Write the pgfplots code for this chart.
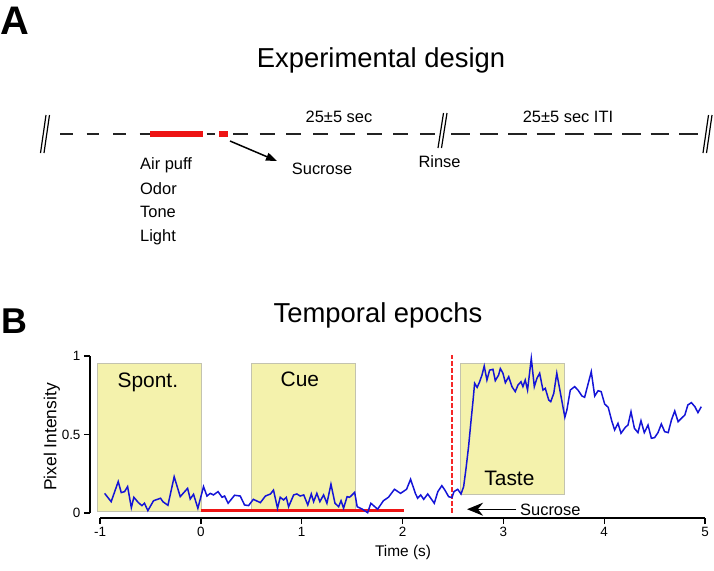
\documentclass[border=0pt]{standalone}
\usepackage{pgfplots}
\pgfplotsset{compat=1.18}
\usepackage{pgfplotstable}
\usepackage{fontspec}
\setmainfont{Liberation Sans}
\usetikzlibrary{arrows.meta}
\definecolor{boxfill}{RGB}{244,242,172}
\definecolor{boxedge}{RGB}{195,195,175}
\definecolor{trace}{RGB}{20,20,215}
\definecolor{cuered}{RGB}{238,20,20}
\definecolor{onsetred}{RGB}{245,40,40}
\definecolor{dashcol}{RGB}{35,35,35}

\pgfplotstableread{
t v
-0.955 0.125
-0.89 0.072
-0.82 0.2
-0.79 0.13
-0.757 0.136
-0.727 0.168
-0.69 0.034
-0.665 0.1
-0.62 0.066
-0.585 0.047
-0.56 0.062
-0.526 0.015
-0.47 0.078
-0.4 0.094
-0.377 0.072
-0.327 0.049
-0.265 0.231
-0.205 0.104
-0.132 0.157
-0.106 0.089
-0.073 0.119
-0.03 0.03
0.026 0.168
0.06 0.108
0.093 0.125
0.125 0.115
0.17 0.136
0.21 0.1
0.235 0.108
0.27 0.062
0.334 0.113
0.39 0.108
0.433 0.051
0.473 0.047
0.52 0.087
0.59 0.066
0.64 0.108
0.69 0.121
0.72 0.146
0.76 0.03
0.787 0.1
0.82 0.083
0.847 0.1
0.87 0.04
0.92 0.115
0.952 0.121
0.985 0.108
1.02 0.115
1.06 0.051
1.095 0.121
1.118 0.072
1.15 0.125
1.18 0.072
1.217 0.115
1.25 0.062
1.29 0.183
1.33 0.062
1.366 0.04
1.39 0.078
1.415 0.03
1.45 0.104
1.475 0.1
1.5 0.115
1.525 0.132
1.55 0.04
1.6 0.025
1.654 0.002
1.686 0.062
1.753 0.024
1.81 0.078
1.86 0.1
1.92 0.151
1.98 0.125
2.04 0.151
2.08 0.215
2.127 0.125
2.15 0.094
2.18 0.115
2.21 0.087
2.25 0.121
2.315 0.062
2.35 0.136
2.39 0.174
2.42 0.146
2.457 0.104
2.49 0.098
2.51 0.136
2.547 0.151
2.58 0.121
2.606 0.168
2.63 0.285
2.655 0.423
2.68 0.592
2.7 0.72
2.715 0.826
2.74 0.8
2.765 0.836
2.788 0.879
2.81 0.936
2.837 0.847
2.864 0.91
2.897 0.915
2.92 0.843
2.953 0.879
2.97 0.92
2.996 0.89
3.02 0.83
3.053 0.868
3.085 0.805
3.118 0.773
3.145 0.815
3.175 0.836
3.194 0.805
3.217 0.847
3.24 0.783
3.277 0.985
3.307 0.805
3.333 0.858
3.36 0.89
3.393 0.783
3.416 0.794
3.45 0.72
3.47 0.709
3.5 0.762
3.53 0.89
3.61 0.61
3.63 0.656
3.664 0.783
3.707 0.805
3.74 0.783
3.78 0.745
3.806 0.737
3.872 0.9
3.906 0.745
3.94 0.779
3.97 0.773
4.005 0.694
4.04 0.673
4.077 0.582
4.104 0.529
4.137 0.571
4.167 0.508
4.21 0.546
4.236 0.56
4.266 0.645
4.3 0.539
4.335 0.512
4.365 0.588
4.398 0.512
4.435 0.56
4.468 0.476
4.5 0.48
4.534 0.512
4.567 0.567
4.6 0.518
4.635 0.512
4.667 0.592
4.7 0.65
4.733 0.582
4.766 0.603
4.8 0.624
4.83 0.688
4.865 0.703
4.9 0.677
4.93 0.639
4.963 0.677
}\tracedata

\begin{document}
\begin{tikzpicture}
% fixed canvas 714 x 571
\path[use as bounding box] (0,0) rectangle (714bp,-571bp);
% ---------- Panel A (schematic, pixel coordinates) ----------
\begin{axis}[name=top, anchor=north west, at={(0,0)}, scale only axis,
  width=714bp, height=571bp, xmin=0, xmax=714, ymin=0, ymax=571,
  y dir=reverse, hide axis, clip=false]
  % dashed timeline
  \addplot[dashcol, line width=2bp, dash pattern=on 12.5bp off 14bp] coordinates {(60,134) (150,134)};
  \addplot[dashcol, line width=2bp] coordinates {(206.7,134) (215,134)};
  \addplot[dashcol, line width=2bp, dash pattern=on 15bp off 11.7bp] coordinates {(233,134) (436,134)};
  \addplot[dashcol, line width=2bp, dash pattern=on 18.5bp off 10bp] coordinates {(451,134) (698,134)};
  % red cue bar and sucrose square
  \addplot[cuered, line width=6bp] coordinates {(150,134) (202.7,134)};
  \addplot[cuered, line width=6bp] coordinates {(219,134) (228.3,134)};
  % break marks
  \addplot[black, line width=1.2bp] coordinates {(40.5,153) (46,115)};
  \addplot[black, line width=1.2bp] coordinates {(44,153) (49.5,115)};
  \addplot[black, line width=1.2bp] coordinates {(438,148) (443.5,113)};
  \addplot[black, line width=1.2bp] coordinates {(441.5,148) (447,113)};
  \addplot[black, line width=1.2bp] coordinates {(703,153) (708.5,115)};
  \addplot[black, line width=1.2bp] coordinates {(706.5,153) (712,115)};
  % arrow to sucrose
  \draw[-{Triangle[length=11bp,width=8bp]}, line width=1.5bp] (axis cs:230,141) -- (axis cs:277,161);
  % texts
  \node[anchor=base west, inner sep=0pt, font=\fontsize{40}{44}\selectfont\bfseries] at (axis cs:0,34) {A};
  \node[anchor=base, inner sep=0pt, font=\fontsize{27.5}{32}\selectfont] at (axis cs:381,67) {Experimental design};
  \node[anchor=base, inner sep=0pt, font=\fontsize{16.5}{19}\selectfont] at (axis cs:339,122) {25±5 sec};
  \node[anchor=base, inner sep=0pt, font=\fontsize{16.5}{19}\selectfont] at (axis cs:568,122) {25±5 sec ITI};
  \node[anchor=base west, inner sep=0pt, font=\fontsize{16.5}{19}\selectfont] at (axis cs:140,169.3) {Air puff};
  \node[anchor=base west, inner sep=0pt, font=\fontsize{16.5}{19}\selectfont] at (axis cs:140,194) {Odor};
  \node[anchor=base west, inner sep=0pt, font=\fontsize{16.5}{19}\selectfont] at (axis cs:140,217.7) {Tone};
  \node[anchor=base west, inner sep=0pt, font=\fontsize{16.5}{19}\selectfont] at (axis cs:140,241.7) {Light};
  \node[anchor=base west, inner sep=0pt, font=\fontsize{16.5}{19}\selectfont] at (axis cs:291.7,174) {Sucrose};
  \node[anchor=base west, inner sep=0pt, font=\fontsize{16.5}{19}\selectfont] at (axis cs:418.3,167.3) {Rinse};
  \node[anchor=base west, inner sep=0pt, font=\fontsize{36}{40}\selectfont\bfseries] at (axis cs:1,333) {B};
  \node[anchor=base, inner sep=0pt, font=\fontsize{27.5}{32}\selectfont] at (axis cs:378,322) {Temporal epochs};
\end{axis}

% ---------- Panel B (plot) ----------
\begin{axis}[name=bot, anchor=south west, at={(90bp,-518bp)}, scale only axis,
  width=615bp, height=162bp,
  xmin=-1.1, xmax=5, ymin=-0.032, ymax=1,
  axis x line*=bottom, axis y line*=left, axis line style={draw=none},
  tick align=outside, major tick length=6bp,
  tick style={black, line width=1.2bp},
  xtick={-1,0,1,2,3,4,5}, ytick={0,0.5,1},
  /pgf/number format/assume math mode=true,
  ticklabel style={font=\fontsize{13.5}{16}\selectfont},
  xlabel={Time (s)}, ylabel={Pixel Intensity},
  xlabel style={font=\fontsize{15.5}{18}\selectfont, at={(axis description cs:0.509,-0.21)}, anchor=center},
  ylabel style={font=\fontsize{17.5}{20}\selectfont, at={(axis description cs:-0.062,0.5)}, anchor=center},
  clip=false]
  % epoch boxes
  \addplot[fill=boxfill, draw=boxedge, line width=0.8bp] coordinates {(-1.03,0.008) (0,0.008) (0,0.953) (-1.03,0.953)} --cycle;
  \addplot[fill=boxfill, draw=boxedge, line width=0.8bp] coordinates {(0.5,0.008) (1.53,0.008) (1.53,0.953) (0.5,0.953)} --cycle;
  \addplot[fill=boxfill, draw=boxedge, line width=0.8bp] coordinates {(2.573,0.121) (3.604,0.121) (3.604,0.953) (2.573,0.953)} --cycle;
  % axis lines (detached)
  \addplot[black, line width=1.2bp] coordinates {(-1,-0.032) (5,-0.032)};
  \addplot[black, line width=1.2bp] coordinates {(-1.1,0) (-1.1,1)};
  % cue bar
  \addplot[cuered, line width=3bp] coordinates {(0,0.015) (2.01,0.015)};
  % sucrose onset
  \addplot[draw=onsetred, line width=1.4bp, dash pattern=on 4.5bp off 2.5bp] coordinates {(2.49,0) (2.49,1.006)};
  % trace
  \addplot[trace, line width=1.5bp] table[x=t, y=v] {\tracedata};
  % labels
  \node[anchor=base, inner sep=0pt, font=\fontsize{21}{24}\selectfont] at (axis cs:-0.526,0.798) {Spont.};
  \node[anchor=base, inner sep=0pt, font=\fontsize{21}{24}\selectfont] at (axis cs:0.982,0.805) {Cue};
  \node[anchor=base, inner sep=0pt, font=\fontsize{21}{24}\selectfont] at (axis cs:3.06,0.178) {Taste};
  \draw[-{Stealth[length=16bp,width=13bp]}, line width=1.3bp] (axis cs:3.13,0.024) -- (axis cs:2.64,0.024);
  \node[anchor=base west, inner sep=0pt, font=\fontsize{16.5}{19}\selectfont] at (axis cs:3.165,-0.019) {Sucrose};
\end{axis}
\end{tikzpicture}
\end{document}
